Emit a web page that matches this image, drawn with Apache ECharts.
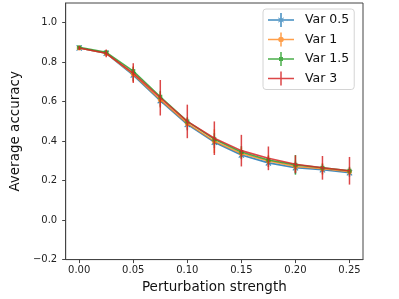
<!DOCTYPE html>
<html><head><meta charset="utf-8">
<script src="https://cdn.jsdelivr.net/npm/echarts@6/dist/echarts.min.js"></script>
<style>html,body{margin:0;padding:0;background:#fff}#c{width:399px;height:299px}</style>
</head><body><div id="c"></div>
<script>
const xs = [0, 0.025, 0.05, 0.075, 0.1, 0.125, 0.15, 0.175, 0.2, 0.225, 0.25];
const var05 = [0.872, 0.845, 0.735, 0.605, 0.485, 0.395, 0.33, 0.29, 0.265, 0.255, 0.24];
const var1 = [0.872, 0.845, 0.74, 0.61, 0.49, 0.40, 0.338, 0.30, 0.272, 0.26, 0.245];
const var15 = [0.875, 0.85, 0.755, 0.625, 0.50, 0.41, 0.345, 0.305, 0.28, 0.265, 0.25];
const var3 = [0.872, 0.845, 0.745, 0.62, 0.50, 0.415, 0.352, 0.313, 0.283, 0.265, 0.25];
const err05 = [0.005, 0.01, 0.03, 0.03, 0.03, 0.03, 0.02, 0.02, 0.03, 0.02, 0.02];
const err1 = [0.008, 0.015, 0.04, 0.04, 0.03, 0.06, 0.03, 0.03, 0.03, 0.03, 0.02];
const err15 = [0.005, 0.01, 0.02, 0.03, 0.02, 0.03, 0.03, 0.02, 0.05, 0.02, 0.02];
const err3 = [0.01, 0.02, 0.05, 0.09, 0.085, 0.085, 0.08, 0.06, 0.045, 0.06, 0.07];
const names = ['Var 0.5', 'Var 1', 'Var 1.5', 'Var 3'];
const xTicks = [0, 0.05, 0.1, 0.15, 0.2, 0.25];
const yTicks = [-0.2, 0, 0.2, 0.4, 0.6, 0.8, 1.0];

const colors = ['rgba(31,119,180,0.85)', 'rgba(255,127,14,0.75)', 'rgba(44,160,44,0.85)', 'rgba(214,39,40,0.85)'];
const means = [var05, var1, var15, var3];
const errs = [err05, err1, err15, err3];

const xPath = 'path://M0,0 L3,2.5 L6,0 L7,1 L4,3.5 L7,6 L6,7 L3,4.5 L0,7 L-1,6 L2,3.5 L-1,1 Z';
const symbols = [xPath, 'circle', 'rect', 'none'];
const symSizes = [6, 5, 4, 0];

const base = 'M0,6.25 h26 v1.5 h-26 z M12.25,0 h1.5 v14 h-1.5 z ';
const icons = [
  'path://' + base + 'M10,5 L12.5,7 L10,9 L10.5,9.5 L13,7.5 L15.5,9.5 L16,9 L13.5,7 L16,5 L15.5,4.5 L13,6.5 L10.5,4.5 Z',
  'path://' + base + 'M10.2,7 a2.8,2.8 0 1,1 5.6,0 a2.8,2.8 0 1,1 -5.6,0 z',
  'path://' + base + 'M11,5 h4 v4 h-4 z',
  'path://' + base
];

const series = [];
for (let s = 0; s < 4; s++) {
  series.push({
    name: names[s], type: 'line',
    data: xs.map((x, i) => [x, means[s][i]]),
    symbol: symbols[s], symbolSize: symSizes[s],
    showSymbol: s !== 3,
    lineStyle: { color: colors[s], width: 1.6 },
    itemStyle: { color: colors[s] },
    animation: false, z: 2 + s
  });
  series.push({
    name: names[s], type: 'custom',
    data: xs.map((x, i) => [x, means[s][i], errs[s][i]]),
    renderItem: function (params, api) {
      const x = api.value(0), y = api.value(1), e = api.value(2);
      const p1 = api.coord([x, y - e]);
      const p2 = api.coord([x, y + e]);
      return { type: 'line', shape: { x1: p1[0], y1: p1[1], x2: p2[0], y2: p2[1] },
        style: { stroke: colors[s], lineWidth: 1.5 } };
    },
    animation: false, z: 2 + s, silent: true
  });
}

const chart = echarts.init(document.getElementById('c'), null, { renderer: 'canvas' });
chart.setOption({
  animation: false,
  textStyle: { fontFamily: 'DejaVu Sans' },
  grid: { left: 51, top: 3, right: 36, bottom: 36.5, show: true, borderColor: '#444', borderWidth: 1, backgroundColor: 'transparent' },
  legend: {
    orient: 'vertical', left: 263, top: 9,
    padding: [4, 5, 4, 5], itemGap: 5.5, itemWidth: 26, itemHeight: 14,
    borderColor: '#d4d4d4', borderWidth: 1, borderRadius: 3, backgroundColor: 'rgba(255,255,255,0.8)',
    textStyle: { fontSize: 12.5, color: '#111', fontFamily: 'DejaVu Sans', padding: [0, 0, 0, 6], lineHeight: 14 },
    data: names.map((n, i) => ({ name: n, icon: icons[i] })),
    selectedMode: false
  },
  xAxis: {
    type: 'value', min: -0.0125, max: 0.2625,
    name: 'Perturbation strength', nameLocation: 'middle', nameGap: 18.5,
    nameTextStyle: { fontSize: 13.5, color: '#111', fontFamily: 'DejaVu Sans' },
    axisLine: { show: true, onZero: false, lineStyle: { color: '#444' } },
    axisTick: { show: true, inside: false, length: 3.5, customValues: xTicks, lineStyle: { color: '#444' } },
    axisLabel: { customValues: xTicks, margin: 5.5, fontSize: 10, color: '#222',
      formatter: v => v.toFixed(2) },
    splitLine: { show: false }
  },
  yAxis: {
    type: 'value', min: -0.2, max: 1.1,
    name: 'Average accuracy', nameLocation: 'middle', nameGap: 37, nameRotate: 90,
    nameTextStyle: { fontSize: 13.5, color: '#111', fontFamily: 'DejaVu Sans' },
    axisLine: { show: true, onZero: false, lineStyle: { color: '#444' } },
    axisTick: { show: true, inside: false, length: 3.5, customValues: yTicks, lineStyle: { color: '#444' } },
    axisLabel: { customValues: yTicks, margin: 8.5, fontSize: 10, color: '#222',
      formatter: v => (v < 0 ? '\u2212' + Math.abs(v).toFixed(1) : v.toFixed(1)) },
    splitLine: { show: false }
  },
  series: series
});
</script></body></html>
